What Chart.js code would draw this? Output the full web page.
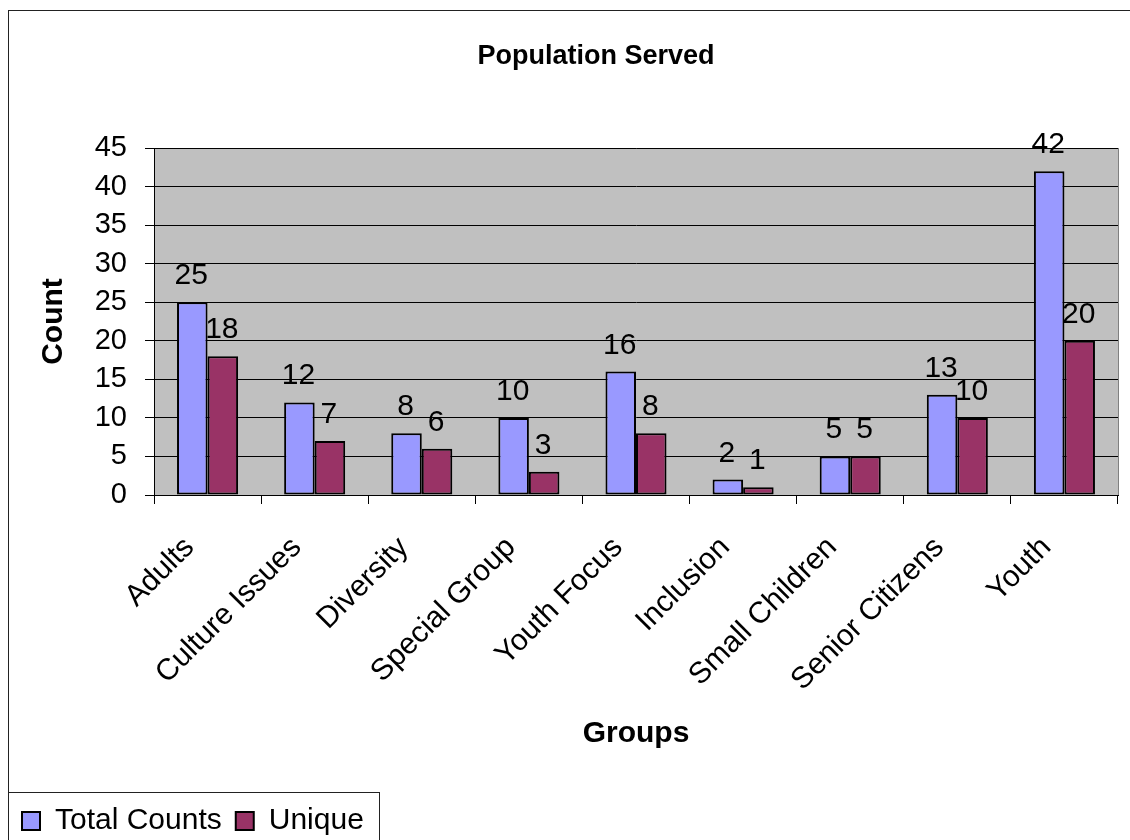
<!DOCTYPE html>
<html>
<head>
<meta charset="utf-8">
<title>Population Served</title>
<script src="https://cdn.jsdelivr.net/npm/chart.js@4.4.1/dist/chart.umd.min.js"></script>
<style>
  html, body { margin: 0; padding: 0; background: #fff; }
  #wrap { width: 1130px; height: 840px; }
</style>
</head>
<body>
<div id="wrap"><canvas id="chart" width="1130" height="840"></canvas></div>
<script>
const groups = ['Adults', 'Culture Issues', 'Diversity', 'Special Group', 'Youth Focus',
                'Inclusion', 'Small Children', 'Senior Citizens', 'Youth'];
const totalCounts = [25, 12, 8, 10, 16, 2, 5, 13, 42];
const uniqueCounts = [18, 7, 6, 3, 8, 1, 5, 10, 20];
const countMin = 0;
const countMax = 45;
const countStep = 5;
const chartTitle = 'Population Served';

const FONT = '"Liberation Sans", Arial, sans-serif';

// grey plot area + outer frame, painted under everything else
const plotBg = {
  id: 'plotBg',
  beforeDraw(chart) {
    const { ctx, chartArea: a } = chart;
    ctx.save();
    ctx.strokeStyle = '#222';
    ctx.lineWidth = 1;
    ctx.strokeRect(8.5, 10.5, 1200, 1000);
    ctx.fillStyle = '#c0c0c0';
    ctx.fillRect(a.left, a.top, a.right - a.left, a.bottom - a.top);
    ctx.strokeStyle = '#808080';
    ctx.strokeRect(a.left + 0.5, a.top + 0.5, a.right - a.left, a.bottom - a.top);
    ctx.restore();
  }
};

// title sits centred on the whole frame, which runs past the right edge
const frameTitle = {
  id: 'frameTitle',
  afterDraw(chart) {
    const ctx = chart.ctx;
    ctx.save();
    ctx.font = 'bold 27px ' + FONT;
    ctx.fillStyle = '#000';
    ctx.textAlign = 'center';
    ctx.textBaseline = 'middle';
    ctx.fillText(chartTitle, 596, 57);
    ctx.restore();
  }
};

// numbers above the bars
const valueLabels = {
  id: 'valueLabels',
  afterDatasetsDraw(chart) {
    const ctx = chart.ctx;
    ctx.save();
    ctx.font = '30px ' + FONT;
    ctx.fillStyle = '#000';
    ctx.textAlign = 'center';
    ctx.textBaseline = 'alphabetic';
    chart.data.datasets.forEach((ds, i) => {
      chart.getDatasetMeta(i).data.forEach((bar, j) => {
        ctx.fillText(String(ds.data[j]), bar.x - 1, bar.y - 18);
      });
    });
    ctx.restore();
  }
};

// box around the legend
const legendFrame = {
  id: 'legendFrame',
  afterDraw(chart) {
    const { ctx, legend } = chart;
    const hits = legend.legendHitBoxes;
    if (!hits || !hits.length) return;
    const last = hits[hits.length - 1];
    const right = Math.round(last.left + last.width + 15) + 0.5;
    ctx.save();
    ctx.strokeStyle = '#222';
    ctx.lineWidth = 1;
    ctx.strokeRect(legend.left + 0.5, legend.top + 0.5, right - legend.left - 0.5, 200);
    ctx.restore();
  }
};

new Chart(document.getElementById('chart'), {
  type: 'bar',
  data: {
    labels: groups,
    datasets: [
      {
        label: 'Total Counts',
        data: totalCounts,
        backgroundColor: '#9999ff',
        borderColor: '#000',
        borderWidth: 2,
        borderSkipped: false
      },
      {
        label: 'Unique',
        data: uniqueCounts,
        backgroundColor: '#993366',
        borderColor: '#000',
        borderWidth: 2,
        borderSkipped: false
      }
    ]
  },
  options: {
    responsive: false,
    animation: false,
    devicePixelRatio: 1,
    categoryPercentage: 0.57,
    barPercentage: 1.0,
    layout: { padding: { top: 148, left: 8, right: 12, bottom: 0 } },
    plugins: {
      title: { display: false },
      legend: {
        position: 'bottom',
        align: 'start',
        maxHeight: 48,
        labels: {
          color: '#000',
          boxWidth: 18,
          boxHeight: 18,
          padding: 14,
          font: { family: FONT, size: 30 }
        }
      },
      tooltip: { enabled: false }
    },
    scales: {
      x: {
        afterFit(scale) { scale.height = 297; },
        grid: {
          display: true,
          drawOnChartArea: false,
          offset: true,
          color: '#000',
          tickLength: 9
        },
        border: { display: true, color: '#000', width: 1 },
        ticks: {
          color: '#000',
          font: { family: FONT, size: 30 },
          autoSkip: false,
          minRotation: 45,
          maxRotation: 45,
          padding: 26,
          labelOffset: -18
        },
        title: {
          display: true,
          text: 'Groups',
          color: '#000',
          font: { family: FONT, size: 30, weight: 'bold' },
          padding: { top: 0, bottom: 40 }
        }
      },
      y: {
        min: countMin,
        max: countMax,
        afterFit(scale) { scale.width = 146; },
        grid: {
          color: '#000',
          tickLength: 9
        },
        border: { display: true, color: '#000', width: 1 },
        ticks: {
          stepSize: countStep,
          color: '#000',
          font: { family: FONT, size: 29 },
          padding: 18
        },
        title: {
          display: true,
          text: 'Count',
          color: '#000',
          font: { family: FONT, size: 30, weight: 'bold' },
          padding: { top: 28, bottom: 0 }
        }
      }
    }
  },
  plugins: [plotBg, valueLabels, legendFrame, frameTitle]
});
</script>
</body>
</html>
